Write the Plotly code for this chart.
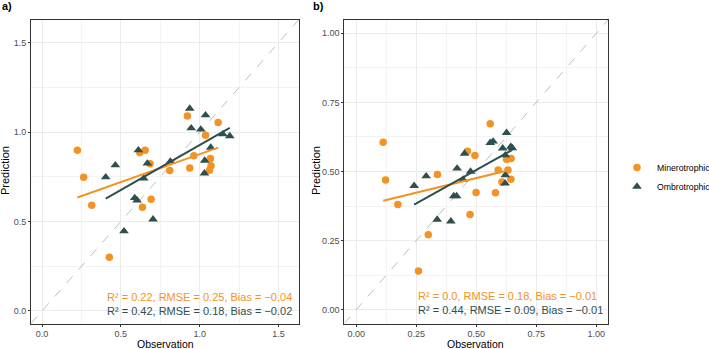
import numpy as np
import plotly.graph_objects as go

# ---------------- data ----------------
# Panel a) — Minerotrophic (circles)
a_min_obs = [0.224, 0.264, 0.315, 0.427, 0.620, 0.654, 0.685, 0.637, 0.692, 0.810,
             0.922, 0.937, 0.963, 1.037, 1.117, 1.068, 1.072, 1.062]
a_min_pred = [0.899, 0.748, 0.591, 0.300, 0.886, 0.899, 0.823, 0.580, 0.625, 0.785,
              1.091, 0.800, 0.868, 0.983, 1.054, 0.853, 0.812, 0.787]
# Panel a) — Ombrotrophic (triangles)
a_omb_obs = [0.404, 0.465, 0.520, 0.588, 0.603, 0.611, 0.645, 0.668, 0.704, 0.814,
             0.937, 0.946, 1.007, 1.037, 1.032, 1.030, 1.070, 1.147, 1.191]
a_omb_pred = [0.748, 0.815, 0.446, 0.632, 0.619, 0.899, 0.741, 0.825, 0.513, 0.836,
              1.132, 1.022, 1.015, 1.095, 0.841, 0.770, 0.914, 0.989, 0.978]

# Panel b) — Minerotrophic
b_min_obs = [0.112, 0.122, 0.173, 0.259, 0.300, 0.338, 0.463, 0.494, 0.499, 0.474,
             0.558, 0.580, 0.591, 0.607, 0.632, 0.626, 0.645, 0.644]
b_min_pred = [0.606, 0.469, 0.381, 0.140, 0.271, 0.489, 0.573, 0.558, 0.424, 0.344,
              0.673, 0.423, 0.505, 0.462, 0.505, 0.544, 0.547, 0.472]
# Panel b) — Ombrotrophic
b_omb_obs = [0.241, 0.291, 0.337, 0.394, 0.406, 0.418, 0.420, 0.445, 0.451, 0.476,
             0.558, 0.570, 0.626, 0.610, 0.621, 0.644, 0.650, 0.621, 0.620]
b_omb_pred = [0.448, 0.483, 0.326, 0.320, 0.411, 0.411, 0.511, 0.471, 0.565, 0.500,
              0.604, 0.609, 0.640, 0.584, 0.559, 0.590, 0.585, 0.487, 0.457]

groups = ["Minerotrophic", "Ombrotrophic"]
a_stats = ["R\u00b2 = 0.22, RMSE = 0.25, Bias = \u22120.04",
           "R\u00b2 = 0.42, RMSE = 0.18, Bias = \u22120.02"]
b_stats = ["R\u00b2 = 0.0, RMSE = 0.18, Bias = \u22120.01",
           "R\u00b2 = 0.44, RMSE = 0.09, Bias = \u22120.01"]

# ---------------- style ----------------
ORANGE = "#F39325"
DARK = "#2F4F4F"
FONT = "Liberation Sans, Arial, sans-serif"
colors = [ORANGE, DARK]
symbols = ["circle", "triangle-up"]
sizes = [7.5, 8.5]

fig = go.Figure()

panels = [
    (a_min_obs, a_min_pred, a_omb_obs, a_omb_pred, "x", "y", [-0.07, 1.63], a_stats, 0.4, [0.08, 0.0]),
    (b_min_obs, b_min_pred, b_omb_obs, b_omb_pred, "x2", "y2", [-0.05, 1.05], b_stats, 0.25, [0.05, 0.0]),
]

for pi, (mo, mp, oo, op, xa, ya, rng, stats, tx, tys) in enumerate(panels):
    # 1:1 dashed line
    fig.add_trace(go.Scatter(x=rng, y=rng, mode="lines", xaxis=xa, yaxis=ya,
                             line=dict(color="#BDBDBD", width=1, dash="dash"),
                             showlegend=False, hoverinfo="skip"))
    data = [(mo, mp), (oo, op)]
    for gi, (ox, py) in enumerate(data):
        fig.add_trace(go.Scatter(x=ox, y=py, mode="markers", xaxis=xa, yaxis=ya,
                                 name=groups[gi],
                                 showlegend=(pi == 0),
                                 marker=dict(color=colors[gi], symbol=symbols[gi],
                                             size=sizes[gi], line=dict(width=0))))
    for gi, (ox, py) in enumerate(data):
        ox = np.array(ox); py = np.array(py)
        k, b = np.polyfit(ox, py, 1)
        xs = np.array([ox.min(), ox.max()])
        fig.add_trace(go.Scatter(x=xs, y=k * xs + b, mode="lines", xaxis=xa, yaxis=ya,
                                 line=dict(color=colors[gi], width=2),
                                 showlegend=False, hoverinfo="skip"))
    for gi in range(2):
        fig.add_annotation(x=tx, y=tys[gi], xref=xa, yref=ya, text=stats[gi],
                           showarrow=False, xanchor="left", yanchor="middle",
                           font=dict(family=FONT, size=11, color=colors[gi]))

W, H = 709, 349
def axis_common(rng, dtick, minor, fmt):
    return dict(range=rng, dtick=dtick, tick0=0, tickformat=fmt,
                showgrid=True, gridcolor="#EBEBEB", gridwidth=1,
                minor=dict(dtick=minor, tick0=0, showgrid=True, gridcolor="#F3F3F3", gridwidth=0.6),
                zeroline=False, showline=True, mirror=True, linecolor="#333333", linewidth=1,
                ticks="outside", ticklen=2, tickcolor="#333333", tickwidth=1,
                tickfont=dict(family=FONT, size=9, color="#4D4D4D"))

ya_dom = [(349 - 323.5) / H, (349 - 19.5) / H]
fig.update_layout(
    width=W, height=H, margin=dict(l=0, r=0, t=0, b=0, autoexpand=False),
    paper_bgcolor="white", plot_bgcolor="white",
    font=dict(family=FONT),
    xaxis=dict(domain=[31 / W, 299 / W], anchor="y", **axis_common([-0.07, 1.63], 0.5, 0.25, ".1f")),
    yaxis=dict(domain=ya_dom, anchor="x", **axis_common([-0.07, 1.63], 0.5, 0.25, ".1f")),
    xaxis2=dict(domain=[344.3 / W, 608.3 / W], anchor="y2", **axis_common([-0.05, 1.05], 0.25, 0.125, ".2f")),
    yaxis2=dict(domain=ya_dom, anchor="x2", **axis_common([-0.05, 1.05], 0.25, 0.125, ".2f")),
    legend=dict(x=617 / W, y=1 - 177 / H, xanchor="left", yanchor="middle",
                font=dict(family=FONT, size=8.7, color="#000000"),
                bgcolor="rgba(0,0,0,0)", itemwidth=30, tracegroupgap=0),
)

# Titles and panel labels
for xp in [165 / W, 476 / W]:
    fig.add_annotation(text="Observation", xref="paper", yref="paper", x=xp, y=1 - 343.8 / H,
                       showarrow=False, xanchor="center", yanchor="middle",
                       font=dict(family=FONT, size=10.5, color="#000000"))
for xp in [5 / W, 316 / W]:
    fig.add_annotation(text="Prediction", xref="paper", yref="paper", x=xp, y=1 - 171 / H,
                       textangle=-90, showarrow=False, xanchor="center", yanchor="middle",
                       font=dict(family=FONT, size=11, color="#000000"))
for txt, xp in [("a)", 0), ("b)", 311 / W)]:
    fig.add_annotation(text="<b>%s</b>" % txt, xref="paper", yref="paper", x=xp, y=1 - 6 / H,
                       showarrow=False, xanchor="left", yanchor="middle",
                       font=dict(family=FONT, size=11, color="#000000"))

fig.write_html("out.html", config={"displayModeBar": False},
               post_script="document.body.style.margin='0';document.body.style.overflow='hidden';")
